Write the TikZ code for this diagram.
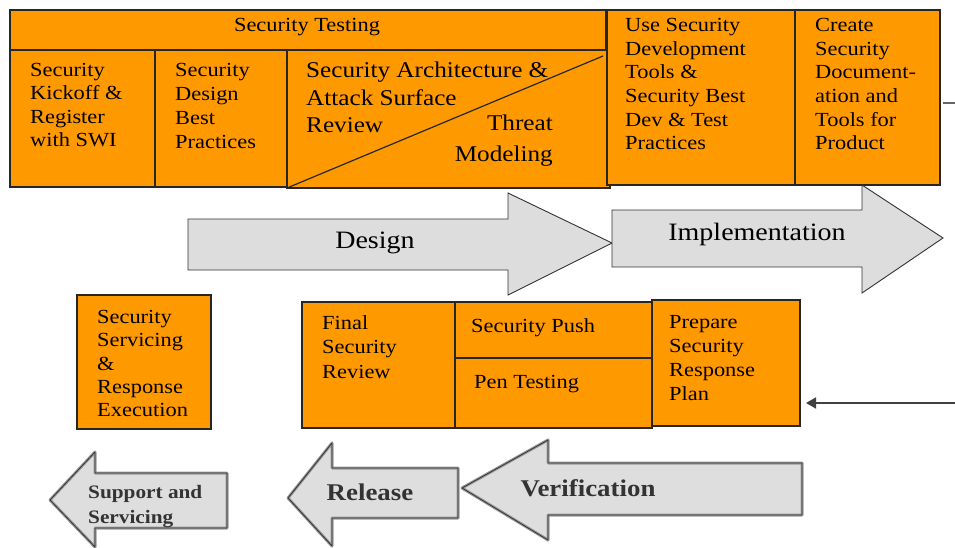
\documentclass[tikz,border=0pt]{standalone}
\usepackage{fontspec}
\setmainfont{Liberation Serif}[FakeStretch=1.12]
\usetikzlibrary{arrows.meta}
\definecolor{sdlorange}{RGB}{255,153,0}
\definecolor{phasegray}{RGB}{221,221,221}
\newcommand\fsz[2]{\fontsize{#1}{#2}\selectfont}
\tikzset{
  cell/.style={draw=black!85, line width=1.3pt, fill=sdlorange, anchor=north west,
               inner sep=0pt, outer sep=0pt},
  txt/.style={anchor=north west, align=left, inner sep=0pt, text=black},
  fwdarrow/.style={draw=black!80, line width=0.9pt, fill=phasegray, line join=miter},
  backarrow/.style={fill=black!13, draw=black!40, line width=3pt, line join=round,
                    postaction={draw=black!80, line width=0.8pt}},
  phaselabel/.style={anchor=base, inner sep=0pt, font=\fsz{25}{28}},
  backlabel/.style={inner sep=0pt, text=black!80, font=\bfseries\fsz{24}{26}},
  feed/.style={draw=black!75, line width=1.8pt, -{Triangle[length=10pt,width=11pt]}},
}
\begin{document}
\begin{tikzpicture}[x=1pt, y=-1pt]
\useasboundingbox (0,0) rectangle (955,548);

% ---- design-phase activities ----
\node[cell, minimum width=596pt, minimum height=40pt] (band) at (10,10) {};
\node[anchor=base, inner sep=0pt, font=\fsz{20}{23}] (bandtxt) at (307,32) {Security Testing};

\node[cell, minimum width=145pt, minimum height=137pt] (kick) at (10,50) {};
\node[cell, minimum width=132pt, minimum height=137pt] (dbp) at (155,50) {};
\node[cell, minimum width=323pt, minimum height=138pt] (arch) at (287,50) {};
\draw[black!85, line width=1.2pt] (arch.south west) -- (603,56);

\node[txt, font=\fsz{20}{23.3}] (kicktxt) at (30,63) {Security\\Kickoff \&\\Register\\with SWI};
\node[txt, font=\fsz{20}{24}] (dbptxt) at (175,63) {Security\\Design\\Best\\Practices};
\node[txt, font=\fsz{22.5}{27.5}] (archtxt) at (306,62) {Security Architecture \&\\Attack Surface\\Review};
\node[anchor=north east, align=right, inner sep=0pt, font=\fsz{22.5}{30.5}] (threat) at (553,115) {Threat\\Modeling};

% ---- implementation-phase activities ----
\node[cell, minimum width=188pt, minimum height=175pt] (tools) at (607,10) {};
\node[cell, minimum width=145pt, minimum height=175pt] (create) at (795,10) {};
\node[txt, font=\fsz{20}{23.7}] (toolstxt) at (625,18) {Use Security\\Development\\Tools \&\\Security Best\\Dev \& Test\\Practices};
\node[txt, font=\fsz{20}{23.7}] (createtxt) at (815,18) {Create\\Security\\Document-\\ation and\\Tools for\\Product};
\coordinate (stubA) at (943,103);
\coordinate (stubB) at (955,103);
\draw[black!60, line width=1.4pt] (stubA) -- (stubB);

% ---- phase arrows ----
\draw[fwdarrow] (188,219) -- (508,219) -- (508,193) -- (612,243) -- (508,295) -- (508,270) -- (188,270) -- cycle;
\node[phaselabel] (design) at (375,248) {Design};
\draw[fwdarrow] (612,210) -- (862,210) -- (862,185) -- (943,238) -- (862,293) -- (862,267) -- (612,267) -- cycle;
\node[phaselabel] (impl) at (757,240) {Implementation};

% ---- release-side activities ----
\node[cell, minimum width=134pt, minimum height=134pt] (serv) at (77,295) {};
\node[txt, font=\fsz{20}{23.3}] (servtxt) at (97,310) {Security\\Servicing\\\&\\Response\\Execution};

\node[cell, minimum width=153pt, minimum height=126pt] (final) at (302,302) {};
\node[cell, minimum width=197pt, minimum height=56pt] (push) at (455,302) {};
\node[cell, minimum width=197pt, minimum height=70pt] (pen) at (455,358) {};
\node[cell, minimum width=148pt, minimum height=126pt] (prep) at (652,300) {};
\node[txt, font=\fsz{20}{24.5}] (finaltxt) at (322,315) {Final\\Security\\Review};
\node[txt, font=\fsz{20}{23}] (pushtxt) at (471,318) {Security Push};
\node[txt, font=\fsz{20}{23}] (pentxt) at (474,375) {Pen Testing};
\node[txt, font=\fsz{20}{24}] (preptxt) at (669,315) {Prepare\\Security\\Response\\Plan};

\coordinate (feedin) at (955,403);
\draw[feed, shorten >=6pt] (feedin) -- (prep.east |- feedin);

% ---- later phases (pointing back) ----
\draw[backarrow] (50,500) -- (95,452) -- (95,473) -- (227,473) -- (227,528) -- (95,528) -- (95,547) -- cycle;
\node[backlabel, anchor=base west, font=\bfseries\fsz{19}{25}] (supp1) at (88,498) {Support and};
\node[backlabel, anchor=base west, font=\bfseries\fsz{19}{25}] (supp2) at (88,523) {Servicing};

\draw[backarrow] (288,498) -- (332,443) -- (332,468) -- (458,468) -- (458,518) -- (332,518) -- (332,546) -- cycle;
\node[backlabel, anchor=base] (release) at (370,500) {Release};

\draw[backarrow] (462,488) -- (548,440) -- (548,463) -- (802,463) -- (802,515) -- (548,515) -- (548,540) -- cycle;
\node[backlabel, anchor=base] (verif) at (588,496) {Verification};
\end{tikzpicture}
\end{document}
